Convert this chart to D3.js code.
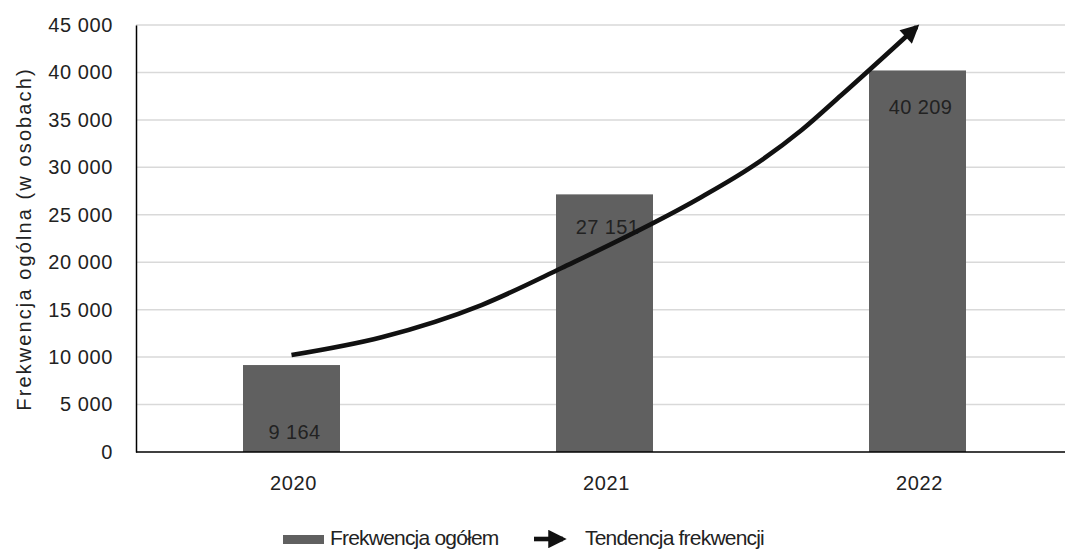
<!DOCTYPE html>
<html><head><meta charset="utf-8">
<script src="https://cdn.jsdelivr.net/npm/d3@7"></script>
<style>
html,body{margin:0;padding:0;background:#fff;}
svg{display:block;}
text{font-family:"Liberation Sans",Arial,sans-serif;fill:#222;}
</style></head>
<body>
<svg id="c" width="1065" height="557"></svg>
<script>
const categories = ["2020","2021","2022"];
const attendance = [9164, 27151, 40209];
const valueLabels = ["9 164","27 151","40 209"];
const yTicks = [0,5000,10000,15000,20000,25000,30000,35000,40000,45000];
// trend arrow: position along category axis (0=2020 centre) and value
const trendPos = [0, 0.288, 0.607, 0.863, 1.31, 1.47, 1.63, 1.757, 1.997];
const trendValue = [10220, 12100, 15490, 19390, 26870, 30040, 33930, 37620, 44790];
const yTitle = "Frekwencja ogólna (w osobach)";
const legendLabels = ["Frekwencja ogółem", "Tendencja frekwencji"];

const svg = d3.select("#c");
const mLeft = 136, mRight = 1065, mTop = 25, mBottom = 452;
const x = d3.scaleBand().domain(categories).range([135, 1074]).padding(0);
const y = d3.scaleLinear().domain([0, 45000]).range([mBottom, mTop]);
const barW = 97;
const barColor = "#606060";
const fmt = v => d3.format(",")(v).replace(/,/g, " ");
const baseFont = '"Liberation Sans",Arial,sans-serif';

// gridlines
svg.append("g").selectAll("line").data(yTicks.filter(d => d > 0)).join("line")
  .attr("x1", mLeft).attr("x2", mRight)
  .attr("y1", d => y(d)).attr("y2", d => y(d))
  .attr("stroke", "#d9d9d9").attr("stroke-width", 1.5);

// y axis
const yAxis = d3.axisLeft(y).tickValues(yTicks).tickFormat(fmt).tickSize(0).tickPadding(23);
const gy = svg.append("g").attr("transform", `translate(${mLeft},0)`).call(yAxis);
gy.select(".domain").attr("stroke", "#000").attr("stroke-width", 1.5);
gy.selectAll("text").style("font-size", "20px").style("letter-spacing", "0.6px").attr("fill", "#222")
  .style("font-family", baseFont);

// bars
svg.append("g").selectAll("rect").data(categories).join("rect")
  .attr("x", (d) => x(d) + x.bandwidth()/2 - barW/2)
  .attr("width", barW)
  .attr("y", (d, i) => y(attendance[i]))
  .attr("height", (d, i) => mBottom - y(attendance[i]))
  .attr("fill", barColor);

// x axis
const xAxis = d3.axisBottom(x).tickSize(0).tickPadding(24);
const gx = svg.append("g").attr("transform", `translate(2,${mBottom})`).call(xAxis);
gx.select(".domain").remove();
gx.selectAll("text").style("font-size", "20px").style("letter-spacing", "0.6px").attr("fill", "#222")
  .style("font-family", baseFont);
svg.append("line").attr("x1", mLeft).attr("x2", mRight).attr("y1", mBottom).attr("y2", mBottom)
  .attr("stroke", "#000").attr("stroke-width", 1.5);

// value labels
const labelOffset = [67, 33, 37];
svg.append("g").selectAll("text").data(categories).join("text")
  .attr("x", d => x(d) + x.bandwidth()/2 + 3)
  .attr("y", (d, i) => y(attendance[i]) + labelOffset[i])
  .attr("text-anchor", "middle").attr("dominant-baseline", "central")
  .style("font-size", "20px").style("letter-spacing", "0.4px").attr("fill", "#111")
  .text((d, i) => valueLabels[i]);

// trend arrow
const defs = svg.append("defs");
defs.append("marker").attr("id", "ah").attr("viewBox", "0 0 10 10")
  .attr("refX", 8).attr("refY", 5).attr("markerWidth", 4.4).attr("markerHeight", 4)
  .attr("markerUnits", "strokeWidth").attr("orient", "auto")
  .append("path").attr("d", "M0,0 L10,5 L0,10 Z").attr("fill", "#111");
const xc = p => x(categories[0]) + x.bandwidth()/2 + p * x.step();
const line = d3.line().x(d => xc(d[0])).y(d => y(d[1])).curve(d3.curveMonotoneX);
svg.append("path").datum(trendPos.map((p, i) => [p, trendValue[i]]))
  .attr("d", line).attr("fill", "none").attr("stroke", "#111").attr("stroke-width", 4.6)
  .attr("marker-end", "url(#ah)");

// y title
svg.append("text").attr("transform", "translate(31,239) rotate(-90)")
  .attr("text-anchor", "middle").style("font-size", "20px").style("letter-spacing", "2.1px").attr("fill", "#222")
  .text(yTitle);

// legend
const lg = svg.append("g");
lg.append("rect").attr("x", 283).attr("y", 535).attr("width", 41).attr("height", 9).attr("fill", barColor);
lg.append("text").attr("x", 330).attr("y", 545).style("font-size", "21px").style("letter-spacing", "-0.8px")
  .style("font-family", baseFont).text(legendLabels[0]);
lg.append("line").attr("x1", 534).attr("x2", 563).attr("y1", 539).attr("y2", 539)
  .attr("stroke", "#111").attr("stroke-width", 4.6).attr("marker-end", "url(#ah)");
lg.append("text").attr("x", 585).attr("y", 545).style("font-size", "21px").style("letter-spacing", "-0.8px")
  .style("font-family", baseFont).text(legendLabels[1]);
</script>
</body></html>
